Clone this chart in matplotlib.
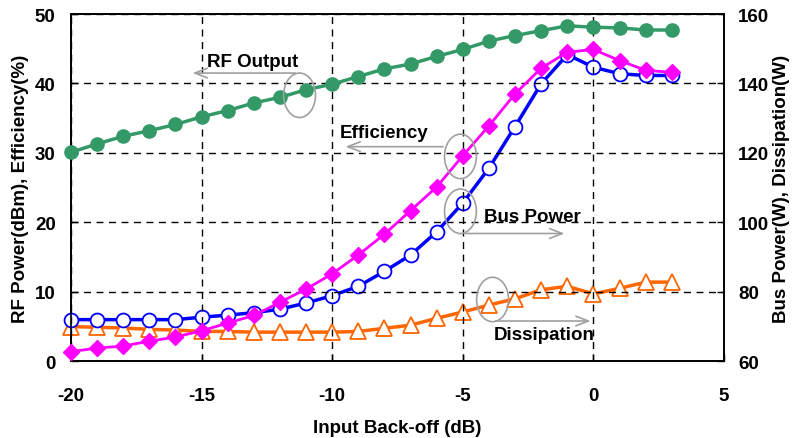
import matplotlib
matplotlib.use("Agg")
import matplotlib.pyplot as plt
from matplotlib.patches import Ellipse

plt.rcParams['font.family'] = ['Liberation Sans', 'DejaVu Sans']
plt.rcParams['font.weight'] = 'bold'
plt.rcParams['axes.unicode_minus'] = False

# input back-off (dB)
backoff = list(range(-20, 4))

# left axis: RF output (dBm) and efficiency (%)
rf_output = [30.1, 31.3, 32.4, 33.2, 34.1, 35.2, 36.1, 37.2, 38.0, 39.1, 39.9, 41.0,
             42.1, 42.8, 43.9, 44.9, 46.1, 46.9, 47.6, 48.3, 48.1, 48.0, 47.7, 47.7]
efficiency = [1.4, 1.9, 2.2, 2.9, 3.5, 4.4, 5.5, 6.6, 8.5, 10.4, 12.6, 15.3,
              18.3, 21.7, 25.1, 29.6, 33.9, 38.5, 42.2, 44.5, 44.9, 43.3, 41.9, 41.6]

# right axis: bus power and dissipation (W)
bus_power = [72.0, 72.0, 72.0, 72.0, 72.0, 72.7, 73.3, 74.0, 75.0, 76.8, 78.9, 81.6,
             85.9, 90.6, 97.3, 105.6, 115.6, 127.6, 139.9, 148.3, 144.7, 142.8, 142.3, 142.3]
dissipation = [70.0, 69.8, 69.6, 69.2, 69.0, 68.6, 68.6, 68.4, 68.4, 68.4, 68.4, 68.6,
               69.5, 70.4, 72.4, 74.2, 76.2, 78.0, 80.6, 81.6, 79.4, 81.0, 82.8, 82.8]

fig = plt.figure(figsize=(7.95, 4.39), dpi=100)
ax = fig.add_axes([0.0893, 0.1747, 0.8214, 0.7911])
ax2 = ax.twinx()

ax.plot(backoff, rf_output, color='#339966', lw=2.5, marker='o', ms=9.5,
        mfc='#339966', mec='#339966', clip_on=False, zorder=3)
ax.plot(backoff, efficiency, color='#ff00ff', lw=2, marker='D', ms=8,
        mfc='#ff00ff', mec='#ff00ff', clip_on=False, zorder=3)
ax2.plot(backoff, dissipation, color='#ff6600', lw=2.5, marker='^', ms=11,
         mfc='white', mec='#ff6600', mew=1.3, clip_on=False, zorder=3)
ax2.plot(backoff, bus_power, color='#0000ff', lw=2.5, marker='o', ms=10,
         mfc='white', mec='#0000ff', mew=1.3, clip_on=False, zorder=4)

ax.set_xlim(-20, 5)
ax.set_ylim(0, 50)
ax2.set_ylim(60, 160)
ax.set_xticks(range(-20, 6, 5))
ax.set_yticks(range(0, 51, 10))
ax2.set_yticks(range(60, 161, 20))

ax.grid(True, color='black', ls=(0, (5, 4)), lw=1)
for a in (ax, ax2):
    a.tick_params(direction='in', labelsize=13.5, length=5, width=1)
    for s in a.spines.values():
        s.set_linewidth(1.2)
ax.tick_params(axis='x', pad=18.5)
ax.tick_params(axis='y', pad=11)
ax2.tick_params(axis='y', pad=10)

ax.set_xlabel('Input Back-off (dB)', fontsize=13.5, fontweight='bold', labelpad=11)
ax.set_ylabel('RF Power(dBm), Efficiency(%)', fontsize=13.5, fontweight='bold', labelpad=4)
ax2.set_ylabel('Bus Power(W), Dissipation(W)', fontsize=13.5, fontweight='bold', labelpad=3)

# annotations: ellipse + arrow + label
gray = '#a0a0a0'
notes = [
    # ellipse centre, arrow start, arrow end, text pos, text
    ((-11.25, 38.3), (-11.3, 41.5), (-15.45, 41.5), (-13.05, 43.1), 'RF Output'),
    ((-5.09, 29.5), (-5.65, 30.9), (-9.6, 30.9), (-8.0, 33.0), 'Efficiency'),
    ((-5.09, 21.6), (-5.0, 18.4), (-1.0, 18.4), (-2.35, 20.8), 'Bus Power'),
    ((-3.86, 8.9), (-3.85, 5.8), (0.0, 5.8), (-1.9, 3.8), 'Dissipation'),
]
for c, a0, a1, tp, txt in notes:
    ax.add_patch(Ellipse(c, 1.22, 6.4, fill=False, ec=gray, lw=1.2, zorder=5))
    ax.annotate('', xy=a1, xytext=a0,
                arrowprops=dict(arrowstyle='->,head_length=0.9,head_width=0.35',
                                color=gray, lw=1.2), zorder=5)
    ax.text(tp[0], tp[1], txt, ha='center', va='center', fontsize=13.5,
            fontweight='bold', zorder=6)

ax.set_zorder(ax2.get_zorder() + 1)
ax.patch.set_visible(False)

fig.savefig('out.png', dpi=100)
